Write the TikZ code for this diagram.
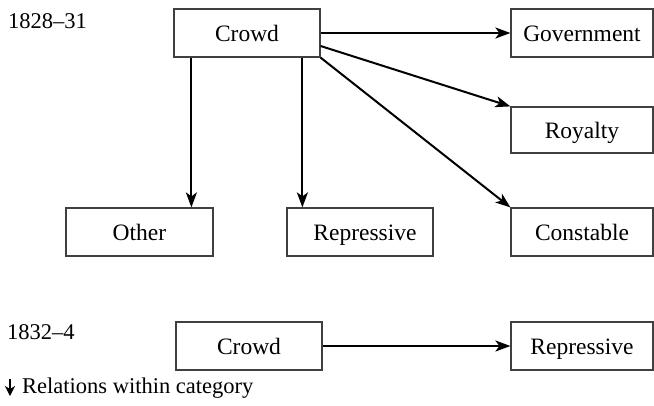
\documentclass[tikz,border=0pt]{standalone}
\usepackage{fontspec}
\setmainfont{Liberation Serif}
\usetikzlibrary{arrows.meta}
\begin{document}
\begin{tikzpicture}[x=1pt,y=-1pt,
  box/.style={draw=black!75,line width=1.2pt,inner sep=0pt,
    text height=16pt,text depth=0pt,
    font=\fontsize{23.5}{27}\selectfont},
  yearlabel/.style={anchor=base west,inner sep=0pt,font=\fontsize{22.5}{27}\selectfont},
  link/.style={line width=2pt,-{Stealth[length=15pt,width=11pt,inset=4pt]}}]
\useasboundingbox (0,0) rectangle (654,405);
% period 1828--31
\node[box,minimum width=146pt,minimum height=48pt] (crowdA) at (247,33) {Crowd};
\node[box,minimum width=142pt,minimum height=48pt] (gov) at (582,33) {Government};
\node[box,minimum width=142pt,minimum height=46pt] (roy) at (582,130) {Royalty};
\node[box,minimum width=147pt,minimum height=48pt] (other) at (139.5,232) {Other};
\node[box,minimum width=146pt,minimum height=48pt] (repA) at (360,232) {\hspace*{10pt}Repressive};
\node[box,minimum width=142pt,minimum height=48pt] (const) at (582,232) {Constable};
\node[yearlabel] (yrA) at (8,28) {1828–31};
\draw[link] (crowdA.east) -- (gov.west);
\draw[link] (crowdA.east) ++(0,13) coordinate (rA) -- (roy.north west);
\draw[link] (crowdA.south east) -- (const.north west);
\draw[link] (crowdA.south west) ++(18,0) coordinate (oA) -- (oA |- other.north);
\draw[link] (crowdA.south west) ++(129,0) coordinate (pA) -- (pA |- repA.north);
% period 1832--4
\node[box,minimum width=146pt,minimum height=48pt] (crowdB) at (249,346) {Crowd};
\node[box,minimum width=142pt,minimum height=48pt] (repB) at (582,346) {Repressive};
\node[yearlabel] (yrB) at (7,339) {1832–4};
\draw[link] (crowdB.east) -- (repB.west);
% key
\node[yearlabel] (key) at (22,393) {Relations within category};
\coordinate (keytop) at (10,379);
\coordinate (keybot) at (10,396);
\draw[line width=1.6pt,-{Stealth[length=10pt,width=10pt,inset=3pt]}] (keytop) -- (keybot);
\end{tikzpicture}
\end{document}
